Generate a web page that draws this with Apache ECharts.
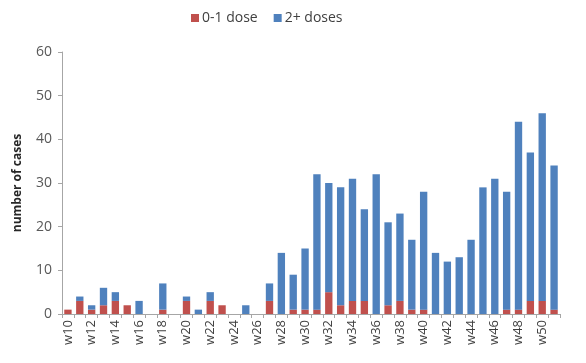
<!DOCTYPE html>
<html><head><meta charset="utf-8">
<script src="https://cdn.jsdelivr.net/npm/echarts@6/dist/echarts.min.js"></script>
<style>html,body{margin:0;padding:0;background:#fff}#c{width:586px;height:363px}</style>
</head><body><div id="c"></div>
<script>
var weeks = ['w10','w11','w12','w13','w14','w15','w16','w17','w18','w19','w20','w21','w22','w23','w24','w25','w26','w27','w28','w29','w30','w31','w32','w33','w34','w35','w36','w37','w38','w39','w40','w41','w42','w43','w44','w45','w46','w47','w48','w49','w50','w51'];
var lowDose = [1,3,1,2,3,2,0,0,1,0,3,0,3,2,0,0,0,3,0,1,1,1,5,2,3,3,0,2,3,1,1,0,0,0,0,0,0,1,1,3,3,1];
var highDose = [0,1,1,4,2,0,3,0,6,0,1,1,2,0,0,2,0,4,14,8,14,31,25,27,28,21,32,19,20,16,27,14,12,13,17,29,31,27,43,34,43,33];
var yTicks = [0,10,20,30,40,50,60];

var chart = echarts.init(document.getElementById('c'));
chart.setOption({
  animation: false,
  textStyle: {fontFamily: 'Open Sans, Liberation Sans, sans-serif'},
  legend: {
    left: 186, top: 6, itemWidth: 8, itemHeight: 8, itemGap: 16,
    icon: 'rect',
    textStyle: {fontSize: 14, color: '#404040', padding: [0,0,0,-2]},
    data: ['0-1 dose', '2+ doses']
  },
  grid: {left: 62, right: 26, top: 52, bottom: 49},
  xAxis: {
    type: 'category', data: weeks,
    axisLine: {lineStyle: {color: '#a6a6a6'}},
    axisTick: {show: true, alignWithLabel: false, interval: 0, length: 4, lineStyle: {color: '#a6a6a6'}},
    axisLabel: {rotate: 90, interval: 1, fontSize: 13, color: '#404040', margin: 6}
  },
  yAxis: {
    type: 'value', min: yTicks[0], max: yTicks[yTicks.length-1], interval: 10,
    name: 'number of cases', nameLocation: 'middle', nameGap: 38,
    nameTextStyle: {fontSize: 12, fontWeight: 'bold', color: '#262626'},
    axisLine: {show: true, lineStyle: {color: '#a6a6a6'}},
    axisTick: {show: true, length: 4, lineStyle: {color: '#a6a6a6'}},
    splitLine: {show: false},
    axisLabel: {fontSize: 14, color: '#595959', margin: 10}
  },
  series: [
    {name: '0-1 dose', type: 'bar', stack: 's', data: lowDose, barWidth: '62%', itemStyle: {color: '#C0504D'}},
    {name: '2+ doses', type: 'bar', stack: 's', data: highDose, barWidth: '62%', itemStyle: {color: '#4F81BD'}}
  ]
});
</script></body></html>
